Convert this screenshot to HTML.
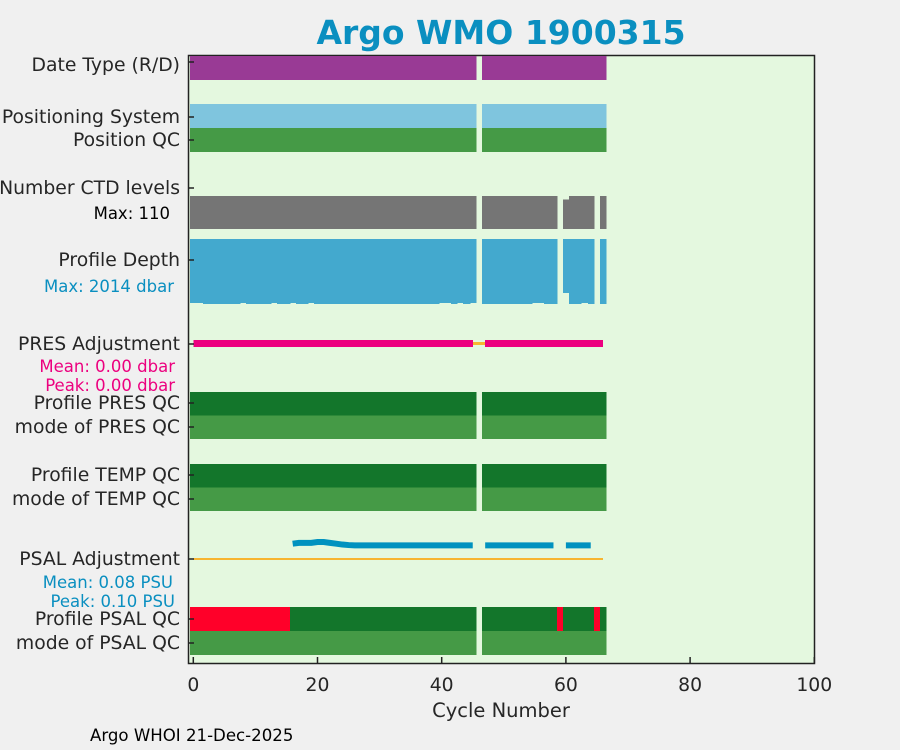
<!DOCTYPE html>
<html><head><meta charset="utf-8"><style>
html,body{margin:0;padding:0;background:#f0f0f0;}
svg{display:block;font-family:"DejaVu Sans","Liberation Sans",sans-serif;}
#marks rect{shape-rendering:crispEdges;}
</style></head><body>
<svg id="chart" width="900" height="750" viewBox="0 0 900 750">
<rect x="0" y="0" width="900" height="750" fill="#f0f0f0"/>
<text x="501" y="44" text-anchor="middle" font-size="33" font-weight="bold" fill="#0a8fc0">Argo WMO 1900315</text>
<rect x="188.5" y="55.5" width="626" height="608" fill="#e4f8df" stroke="#222" stroke-width="1.5"/>
<g id="marks"></g>
<g id="axes"></g>
<text x="501" y="717" text-anchor="middle" font-size="19.5" fill="#262626">Cycle Number</text>
<text x="90" y="741" font-size="16.6" fill="#000">Argo WHOI 21-Dec-2025</text>
</svg>
<script>
// ---- data ----
const cycles = [];
for (let c = 0; c <= 66; c++) if (c !== 46) cycles.push(c);
const ctdMissing = [59, 65];
const ctdLevels = {60: 98};
const ctdMax = 110;
const depthCycles60 = 1670;
const depthMax = 2014;
const depthShort = [0, 1, 8, 13, 16, 19, 40, 41, 43, 45, 55, 56, 63];
const psalCycles = [16,17,18,19,20,21,22,23,24,25,26,27,28,29,30,31,32,33,34,35,36,37,38,39,40,41,42,43,44,45,47,48,49,50,51,52,53,54,55,56,57,58,60,61,62,63,64];
const psalValues = [0.090,0.095,0.095,0.095,0.100,0.100,0.095,0.090,0.085,0.082,0.080,0.080,0.080,0.080,0.080,0.080,0.080,0.080,0.080,0.080,0.080,0.080,0.080,0.080,0.080,0.080,0.080,0.080,0.080,0.080,0.080,0.080,0.080,0.080,0.080,0.080,0.080,0.080,0.080,0.080,0.080,0.080,0.080,0.080,0.080,0.080,0.080];
const psalRed = [0,1,2,3,4,5,6,7,8,9,10,11,12,13,14,15,59,65];
const xTicks = [0, 20, 40, 60, 80, 100];

// ---- scales ----
const X0 = 193.3, XS = 6.21;
function xs(c){ return X0 + c * XS; }
function psalY(v){ return 559 - v * 170; }
const NS = "http://www.w3.org/2000/svg";
const marks = document.getElementById('marks');
const axes = document.getElementById('axes');
function rect(name, x, y, w, h, fill){
  const r = document.createElementNS(NS, 'rect');
  r.setAttribute('x', x); r.setAttribute('y', y);
  r.setAttribute('width', w); r.setAttribute('height', h);
  r.setAttribute('fill', fill);
  
  
  marks.appendChild(r);
  return r;
}
function cellRow(name, y, h, colorFn, skip){
  cycles.forEach(c => {
    if (skip && skip.includes(c)) return;
    const x0 = Math.round(xs(c - 0.5)), x1 = Math.round(xs(c + 0.5));
    rect(name, x0, y, x1 - x0 + 0.5, h, colorFn(c));
  });
}
const GREEN = '#459a46', DGREEN = '#13762b';
cellRow('date-type-cell', 56, 24, () => '#993a95');
cellRow('positioning-system-cell', 104, 24, () => '#7fc5de');
cellRow('position-qc-cell', 128, 24, () => GREEN);
cycles.forEach(c => {
  if (ctdMissing.includes(c)) return;
  const lv = ctdLevels[c] !== undefined ? ctdLevels[c] : ctdMax;
  const h = lv / ctdMax * 33;
  const x0 = Math.round(xs(c - 0.5)), x1 = Math.round(xs(c + 0.5));
  rect('ctd-levels-bar', x0, 229 - h, x1 - x0 + 0.5, h, '#757575');
});
cycles.forEach(c => {
  if (ctdMissing.includes(c)) return;
  let d = c === 60 ? depthCycles60 : (depthShort.includes(c) ? 1985 : 2014);
  const h = d / depthMax * 65;
  const x0 = Math.round(xs(c - 0.5)), x1 = Math.round(xs(c + 0.5));
  rect('profile-depth-bar', x0, 239, x1 - x0 + 0.5, h, '#43a9ce');
});
// PRES adjustment
rect('pres-adjustment-zero-line', xs(0), 342, xs(66) - xs(0), 3, '#f7b530');
rect('pres-adjustment-series', xs(0), 340, xs(45) - xs(0), 7, '#ec007f');
rect('pres-adjustment-series', xs(47), 340, xs(66) - xs(47), 7, '#ec007f');
cellRow('profile-pres-qc-cell', 392, 23.5, () => DGREEN);
cellRow('mode-pres-qc-cell', 415.5, 23.5, () => GREEN);
cellRow('profile-temp-qc-cell', 464, 23.5, () => DGREEN);
cellRow('mode-temp-qc-cell', 487.5, 23.5, () => GREEN);
// PSAL adjustment
rect('psal-adjustment-zero-line', xs(0), 558, xs(66) - xs(0), 2, '#f7b530');
let seg = [];
function flush(){
  if (seg.length > 1){
    const p = document.createElementNS(NS, 'polyline');
    p.setAttribute('points', seg.map(q => q.join(',')).join(' '));
    p.setAttribute('fill', 'none');
    p.setAttribute('stroke', '#0092bf');
    p.setAttribute('stroke-width', '6');
    p.setAttribute('stroke-linecap', 'butt');
    
    
    marks.appendChild(p);
  }
  seg = [];
}
psalCycles.forEach((c, i) => {
  if (i > 0 && c !== psalCycles[i - 1] + 1) flush();
  seg.push([xs(c), psalY(psalValues[i])]);
});
flush();
cellRow('profile-psal-qc-cell', 607, 24, c => psalRed.includes(c) ? '#ff0029' : DGREEN);
cellRow('mode-psal-qc-cell', 631, 24, () => GREEN);

// ---- axes ----
function txt(name, x, y, s, size, fill, anchor){
  const t = document.createElementNS(NS, 'text');
  t.setAttribute('x', x); t.setAttribute('y', y);
  t.setAttribute('font-size', size); t.setAttribute('fill', fill);
  t.setAttribute('text-anchor', anchor || 'end');
  
  
  t.textContent = s;
  axes.appendChild(t);
}
function line(name, x1, y1, x2, y2){
  const l = document.createElementNS(NS, 'line');
  l.setAttribute('x1', x1); l.setAttribute('y1', y1);
  l.setAttribute('x2', x2); l.setAttribute('y2', y2);
  l.setAttribute('stroke', '#222'); l.setAttribute('stroke-width', '1.5');
  
  
  axes.appendChild(l);
}
xTicks.forEach(t => {
  line('x-tick', xs(t), 663, xs(t), 657);
  txt('x-tick-label', xs(t), 691, String(t), 18.8, '#262626', 'middle');
});
const yLabels = [
  ['Date Type (R/D)', 62, 71], ['Positioning System', 117, 123], ['Position QC', 140, 146],
  ['Number CTD levels', 188, 194], ['Profile Depth', 260, 266], ['PRES Adjustment', 344, 350],
  ['Profile PRES QC', 403, 409], ['mode of PRES QC', 427, 433], ['Profile TEMP QC', 475, 481],
  ['mode of TEMP QC', 499, 505], ['PSAL Adjustment', 559, 565], ['Profile PSAL QC', 619, 625],
  ['mode of PSAL QC', 643, 649]
];
yLabels.forEach(l => {
  line('y-tick', 188.5, l[1], 194, l[1]);
  txt('y-tick-label', 180, l[2], l[0], 18.8, '#262626');
});
txt('ctd-max-note', 170, 219, 'Max: 110', 16.5, '#000');
txt('depth-max-note', 174, 292, 'Max: 2014 dbar', 16.5, '#0a8fc0');
txt('pres-mean-note', 175, 372, 'Mean: 0.00 dbar', 16.5, '#ec007f');
txt('pres-peak-note', 175, 391, 'Peak: 0.00 dbar', 16.5, '#ec007f');
txt('psal-mean-note', 173, 588, 'Mean: 0.08 PSU', 16.5, '#0a8fc0');
txt('psal-peak-note', 175, 607, 'Peak: 0.10 PSU', 16.5, '#0a8fc0');
</script>
</body></html>
